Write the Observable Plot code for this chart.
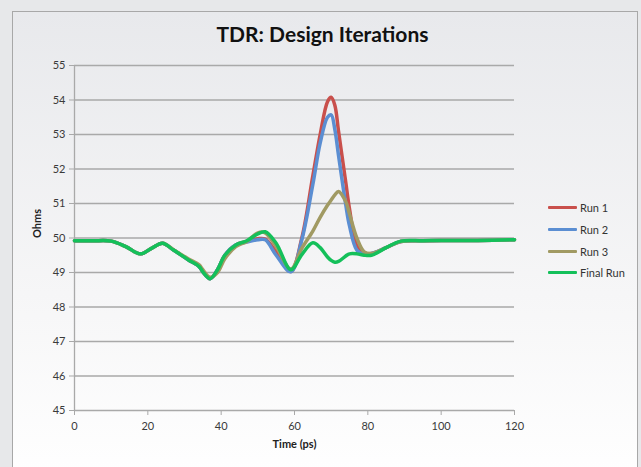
<!DOCTYPE html>
<html>
<head>
<meta charset="utf-8">
<script src="https://cdn.jsdelivr.net/npm/d3@7"></script>
<script src="https://cdn.jsdelivr.net/npm/@observablehq/plot@0.6"></script>
<style>
  html, body { margin: 0; padding: 0; }
  body { width: 641px; height: 467px; background: #e7e8ea; position: relative; overflow: hidden; font-family: Lato, "Open Sans", sans-serif; }
  #panel { position: absolute; left: 12px; top: 11px; width: 624px; height: 470px; border: 1px solid #a8a8a8; background: linear-gradient(#e8e9ec 0%, #f6f6f7 60%, #ffffff 100%); }
  #title { position: absolute; left: 0; top: 21px; width: 645px; text-align: center; font-weight: bold; font-size: 21px; color: #111; }
  #chart { position: absolute; left: 0; top: 0; }
  #legend { position: absolute; left: 548px; top: 197px; font-size: 11px; color: #333; }
  .item { display: flex; align-items: center; height: 21.7px; }
  .sw { width: 29px; height: 3px; margin-right: 3px; border-radius: 1px; }
</style>
</head>
<body>
<div id="panel"></div>
<div id="title">TDR: Design Iterations</div>
<div id="chart"></div>
<div id="legend"></div>
<script>
const seriesNames = ["Run 1", "Run 2", "Run 3", "Final Run"];
const seriesColors = ["#c9504c", "#5b8ed2", "#a19a63", "#14c05a"];

const timePs = [0, 5, 10, 14, 18, 21, 24, 27, 31, 34, 35, 37, 39, 41, 44, 47, 50, 52, 55, 59, 62, 65, 67, 69, 70, 71, 72, 74, 75, 77, 79, 81, 85, 89, 95, 100, 110, 120];

const run1 = [49.92, 49.92, 49.91, 49.75, 49.54, 49.7, 49.85, 49.65, 49.37, 49.17, 49.02, 48.82, 49.08, 49.5, 49.8, 49.9, 49.98, 49.97, 49.6, 49.03, 50.0, 51.8, 53.0, 53.95, 54.08, 53.85, 53.1, 51.6, 50.85, 49.78, 49.55, 49.55, 49.72, 49.9, 49.92, 49.93, 49.93, 49.95];
const run2 = [49.92, 49.92, 49.91, 49.75, 49.54, 49.7, 49.85, 49.65, 49.37, 49.17, 49.02, 48.82, 49.08, 49.5, 49.8, 49.88, 49.95, 49.95, 49.5, 49.02, 49.95, 51.55, 52.75, 53.5, 53.57, 53.15, 52.4, 50.95, 50.35, 49.65, 49.52, 49.55, 49.72, 49.9, 49.92, 49.93, 49.93, 49.95];
const run3 = [49.92, 49.92, 49.91, 49.75, 49.54, 49.7, 49.85, 49.66, 49.4, 49.22, 49.08, 48.86, 49.0, 49.4, 49.75, 49.9, 50.15, 50.15, 49.75, 49.1, 49.7, 50.2, 50.6, 50.95, 51.1, 51.25, 51.35, 51.05, 50.7, 50.0, 49.6, 49.55, 49.72, 49.9, 49.92, 49.93, 49.93, 49.95];
const finalRun = [49.92, 49.92, 49.91, 49.75, 49.54, 49.7, 49.85, 49.65, 49.37, 49.17, 49.02, 48.82, 49.08, 49.5, 49.8, 49.92, 50.12, 50.18, 49.85, 49.08, 49.52, 49.86, 49.72, 49.45, 49.35, 49.3, 49.32, 49.48, 49.54, 49.54, 49.5, 49.5, 49.72, 49.91, 49.92, 49.93, 49.93, 49.95];

const yTicks = [45, 46, 47, 48, 49, 50, 51, 52, 53, 54, 55];
const xTicks = [0, 20, 40, 60, 80, 100, 120];

const allSeries = [run1, run2, run3, finalRun];
const rows = [];
allSeries.forEach((vals, si) => {
  vals.forEach((v, i) => rows.push({series: seriesNames[si], t: timePs[i], ohms: v}));
});

const chart = Plot.plot({
  width: 641,
  height: 467,
  marginLeft: 74,
  marginRight: 127,
  marginTop: 65,
  marginBottom: 57,
  style: {background: "transparent", fontFamily: "Lato, 'Open Sans', sans-serif", fontSize: "11px", color: "#333"},
  x: {domain: [0, 120]},
  y: {domain: [45, 55]},
  color: {domain: seriesNames, range: seriesColors},
  marks: [
    Plot.ruleY(yTicks, {stroke: "#a9a9a9", strokeWidth: 1.3}),
    Plot.ruleX([0], {stroke: "#a9a9a9", strokeWidth: 1.3}),
    Plot.axisY({ticks: yTicks, tickSize: 5, tickPadding: 4, stroke: "#a9a9a9", fill: "#3a3a3a", label: null}),
    Plot.axisX({ticks: xTicks, tickSize: 5, tickPadding: 7, stroke: "#a9a9a9", fill: "#3a3a3a", label: null}),
    Plot.line(rows, {x: "t", y: "ohms", z: "series", stroke: "series", strokeWidth: 3.5, curve: "catmull-rom", strokeLinejoin: "round"}),
    Plot.text(["Ohms"], {frameAnchor: "left", dx: -37, rotate: -90, fontWeight: "bold", fontSize: 11, fill: "#222"}),
    Plot.text(["Time (ps)"], {frameAnchor: "bottom", dy: 37, fontWeight: "bold", fontSize: 11, fill: "#222"})
  ]
});
document.getElementById("chart").appendChild(chart);

const legend = document.getElementById("legend");
seriesNames.forEach((n, i) => {
  const item = document.createElement("div");
  item.className = "item";
  const sw = document.createElement("div");
  sw.className = "sw";
  sw.style.background = seriesColors[i];
  const lab = document.createElement("span");
  lab.textContent = n;
  item.appendChild(sw);
  item.appendChild(lab);
  legend.appendChild(item);
});
</script>
</body>
</html>
